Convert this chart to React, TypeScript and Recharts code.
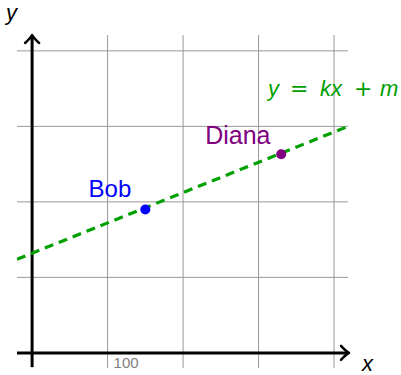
import React from 'react';
import {
  ComposedChart,
  Line,
  Scatter,
  XAxis,
  YAxis,
  ReferenceLine,
  LabelList,
} from 'recharts';

// ---- data ----
const gridTicksX = [0, 100, 200, 300, 400];
const gridTicksY = [0, 100, 200, 300, 400];
const xDomain: [number, number] = [-20, 418.5];
const yDomain: [number, number] = [-20, 421];
const labeledTickX = 100;

const fitLineX = [-20, 418.5];
const fitLineY = [124, 300];

const personNames = ['Bob', 'Diana'];
const personX = [150, 330];
const personY = [190, 263];

const fitData = fitLineX.map((x, i) => ({ x, y: fitLineY[i] }));
const bobData = [{ x: personX[0], y: personY[0], name: personNames[0] }];
const dianaData = [{ x: personX[1], y: personY[1], name: personNames[1] }];

const SANS = '"Liberation Sans", Arial, Helvetica, sans-serif';
const DEJAVU = '"DejaVu Sans", sans-serif';
const GREEN = '#00a000';
const BLUE = '#0000ff';
const PURPLE = '#800080';
const GRID = '#999';

const XAxisShape = (props: any) => {
  const { x1, x2, y1 } = props;
  const left = Math.min(x1, x2);
  const tip = Math.max(x1, x2) + 1;
  const y = y1;
  return (
    <g>
      <line x1={left} y1={y} x2={tip - 1} y2={y} stroke="#000" strokeWidth={3} />
      <path
        d={`M ${tip - 8} ${y - 7} Q ${tip - 3} ${y - 1.5} ${tip} ${y} Q ${tip - 3} ${y + 1.5} ${tip - 8} ${y + 7}`}
        stroke="#000"
        strokeWidth={2.5}
        fill="none"
        strokeLinecap="round"
        strokeLinejoin="round"
      />
      <text x={tip + 13} y={y + 18} fontSize={22} fontStyle="italic" fontFamily={SANS} fill="#000">
        x
      </text>
    </g>
  );
};

const YAxisShape = (props: any) => {
  const { x1, y1, y2 } = props;
  const bottom = Math.max(y1, y2) - 1;
  const tip = Math.min(y1, y2);
  const x = x1;
  return (
    <g>
      <line x1={x} y1={bottom} x2={x} y2={tip + 1} stroke="#000" strokeWidth={3} />
      <path
        d={`M ${x - 7} ${tip + 8} Q ${x - 1.5} ${tip + 3} ${x} ${tip} Q ${x + 1.5} ${tip + 3} ${x + 7} ${tip + 8}`}
        stroke="#000"
        strokeWidth={2.5}
        fill="none"
        strokeLinecap="round"
        strokeLinejoin="round"
      />
      <text x={x - 26} y={tip - 15} fontSize={22} fontStyle="italic" fontFamily={SANS} fill="#000">
        y
      </text>
    </g>
  );
};

const makePersonShape = (color: string, dx: number, dy: number, fontSize: number) => (props: any) => {
  const { cx, cy, payload } = props;
  return (
    <g>
      <circle cx={cx} cy={cy} r={5} fill={color} />
      <text x={cx + dx} y={cy + dy} textAnchor="end" fill={color} fontSize={fontSize} fontFamily={SANS}>
        {payload.name}
      </text>
    </g>
  );
};

const TickLabel = (props: any) => {
  const vb = props.viewBox || {};
  if (vb.x == null) return null;
  return (
    <text x={vb.x + 6} y={vb.y + vb.height} fontSize={15} fill="#808080" fontFamily={SANS}>
      {String(labeledTickX)}
    </text>
  );
};

const EquationLabel = (props: any) => {
  const { index } = props;
  const x = props.x ?? props.viewBox?.x;
  const y = props.y ?? props.viewBox?.y;
  if (index !== fitData.length - 1 || x == null || y == null) return null;
  const x0 = x - 80;
  const by = y - 30;
  return (
    <g fill={GREEN}>
      <text x={x0} y={by} fontSize={22} fontStyle="italic" fontFamily={SANS}>y</text>
      <text x={x0 + 22} y={by} fontSize={22} fontFamily={DEJAVU}>=</text>
      <text x={x0 + 52} y={by} fontSize={22} fontStyle="italic" fontFamily={SANS}>kx</text>
      <text x={x0 + 86} y={by} fontSize={22} fontFamily={DEJAVU}>+</text>
      <text x={x0 + 112} y={by} fontSize={22} fontStyle="italic" fontFamily={SANS}>m</text>
    </g>
  );
};

export default function App() {
  return (
    <div style={{ position: 'absolute', left: 0, top: 0, width: 401, height: 375, background: '#fff' }}>
      <ComposedChart width={401} height={375} margin={{ top: 35, right: 53, bottom: 7, left: 17 }}>
        <XAxis
          type="number"
          dataKey="x"
          domain={xDomain}
          allowDataOverflow
          ticks={gridTicksX}
          height={0}
          axisLine={false}
          tickLine={false}
          tick={false}
        />
        <YAxis
          type="number"
          dataKey="y"
          domain={yDomain}
          allowDataOverflow
          ticks={gridTicksY}
          width={0}
          axisLine={false}
          tickLine={false}
          tick={false}
        />
        {gridTicksX.map((v) => (
          <ReferenceLine key={`gx${v}`} x={v} stroke={GRID} strokeWidth={1} />
        ))}
        {gridTicksY.map((v) => (
          <ReferenceLine key={`gy${v}`} y={v} stroke={GRID} strokeWidth={1} />
        ))}
        <ReferenceLine x={labeledTickX} stroke="none" label={<TickLabel />} ifOverflow="visible" />
        <ReferenceLine y={0} shape={XAxisShape} ifOverflow="visible" />
        <ReferenceLine x={0} shape={YAxisShape} ifOverflow="visible" />
        <Line
          data={fitData}
          dataKey="y"
          type="linear"
          stroke={GREEN}
          strokeWidth={3.2}
          strokeDasharray="9 6"
          dot={false}
          activeDot={false}
          isAnimationActive={false}
        >
          <LabelList dataKey="y" content={EquationLabel} />
        </Line>
        <Scatter data={bobData} dataKey="y" shape={makePersonShape(BLUE, -14, -12.6, 24)} isAnimationActive={false} />
        <Scatter data={dianaData} dataKey="y" shape={makePersonShape(PURPLE, -10.7, -10, 25)} isAnimationActive={false} />
      </ComposedChart>
    </div>
  );
}
